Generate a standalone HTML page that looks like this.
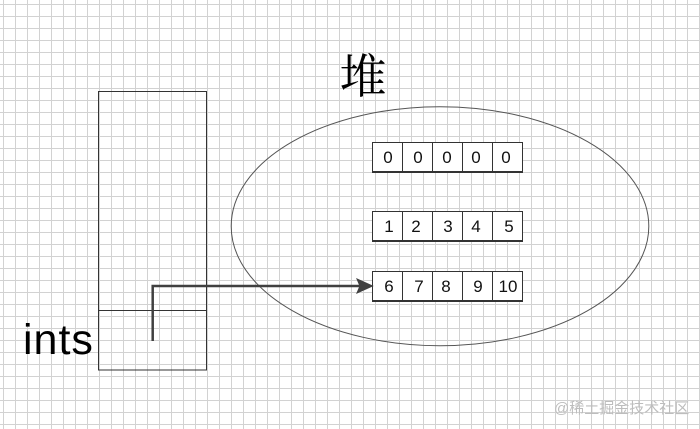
<!DOCTYPE html>
<html>
<head>
<meta charset="utf-8">
<style>
  html,body{margin:0;padding:0;background:#fff;}
  svg{display:block;}
</style>
</head>
<body>
<svg width="700" height="429" viewBox="0 0 700 429" xmlns="http://www.w3.org/2000/svg">
  <defs>
    <pattern id="grid" patternUnits="userSpaceOnUse" x="3" y="4" width="12" height="12">
      <line x1="0.5" y1="0" x2="0.5" y2="12" stroke="#d2d2d2" stroke-width="1"/>
      <line x1="0" y1="0.5" x2="12" y2="0.5" stroke="#d2d2d2" stroke-width="1"/>
    </pattern>
  </defs>
  <rect x="0" y="0" width="700" height="429" fill="#fff"/>
  <rect x="0" y="0" width="700" height="429" fill="url(#grid)"/>

  <!-- heap label -->
  <text x="363" y="93" font-family="'Noto Serif CJK SC', 'Liberation Serif', serif" font-size="47" text-anchor="middle" fill="#000">堆</text>

  <!-- ellipse -->
  <ellipse cx="440" cy="226.2" rx="208.8" ry="119.5" fill="none" stroke="#555" stroke-width="1"/>

  <!-- stack rect -->
  <rect x="98.5" y="91.5" width="108" height="278.5" fill="none" stroke="#333" stroke-width="1"/>
  <line x1="98.5" y1="310.5" x2="206.5" y2="310.5" stroke="#333" stroke-width="1"/>

  <!-- ints label -->
  <text x="23" y="354" font-family="'Liberation Sans', sans-serif" font-size="43" letter-spacing="1" fill="#000">ints</text>

  <!-- arrays -->
  <g font-family="'Liberation Sans', sans-serif" font-size="17" fill="#111" text-anchor="middle">
    <!-- row 1 -->
    <rect x="372.5" y="142.5" width="150" height="29" fill="#fff" stroke="#333" stroke-width="1"/>
    <line x1="372" y1="172" x2="523" y2="172" stroke="#333" stroke-width="2"/>
    <line x1="402.5" y1="142.5" x2="402.5" y2="171.5" stroke="#333"/>
    <line x1="432.5" y1="142.5" x2="432.5" y2="171.5" stroke="#333"/>
    <line x1="462.5" y1="142.5" x2="462.5" y2="171.5" stroke="#333"/>
    <line x1="492.5" y1="142.5" x2="492.5" y2="171.5" stroke="#333"/>
    <text x="388" y="163">0</text>
    <text x="418" y="163">0</text>
    <text x="447" y="163">0</text>
    <text x="476" y="163">0</text>
    <text x="506" y="163">0</text>

    <!-- row 2 -->
    <rect x="372.5" y="211.5" width="150" height="29" fill="#fff" stroke="#333" stroke-width="1"/>
    <line x1="372" y1="241" x2="523" y2="241" stroke="#333" stroke-width="2"/>
    <line x1="402.5" y1="211.5" x2="402.5" y2="240.5" stroke="#333"/>
    <line x1="432.5" y1="211.5" x2="432.5" y2="240.5" stroke="#333"/>
    <line x1="462.5" y1="211.5" x2="462.5" y2="240.5" stroke="#333"/>
    <line x1="492.5" y1="211.5" x2="492.5" y2="240.5" stroke="#333"/>
    <text x="389" y="232">1</text>
    <text x="416" y="232">2</text>
    <text x="448" y="232">3</text>
    <text x="476" y="232">4</text>
    <text x="509" y="232">5</text>

    <!-- row 3 -->
    <rect x="372.5" y="271.5" width="150" height="29" fill="#fff" stroke="#333" stroke-width="1"/>
    <line x1="372" y1="301" x2="523" y2="301" stroke="#333" stroke-width="2"/>
    <line x1="402.5" y1="271.5" x2="402.5" y2="300.5" stroke="#333"/>
    <line x1="432.5" y1="271.5" x2="432.5" y2="300.5" stroke="#333"/>
    <line x1="462.5" y1="271.5" x2="462.5" y2="300.5" stroke="#333"/>
    <line x1="492.5" y1="271.5" x2="492.5" y2="300.5" stroke="#333"/>
    <text x="389" y="292">6</text>
    <text x="419" y="292">7</text>
    <text x="446" y="292">8</text>
    <text x="478" y="292">9</text>
    <text x="508" y="292">10</text>
  </g>

  <!-- connector -->
  <path d="M152.7 341 V286 H360" fill="none" stroke="#404040" stroke-width="2.5"/>
  <polygon points="372.5,286 357,279 360,286 357,293" fill="#404040" stroke="#404040" stroke-width="1" stroke-linejoin="miter"/>

  <!-- watermark -->
  <text x="554" y="413" font-family="'Liberation Sans', 'Noto Sans CJK SC', sans-serif" font-size="15" fill="#bdbdbd">@稀土掘金技术社区</text>
</svg>
</body>
</html>
